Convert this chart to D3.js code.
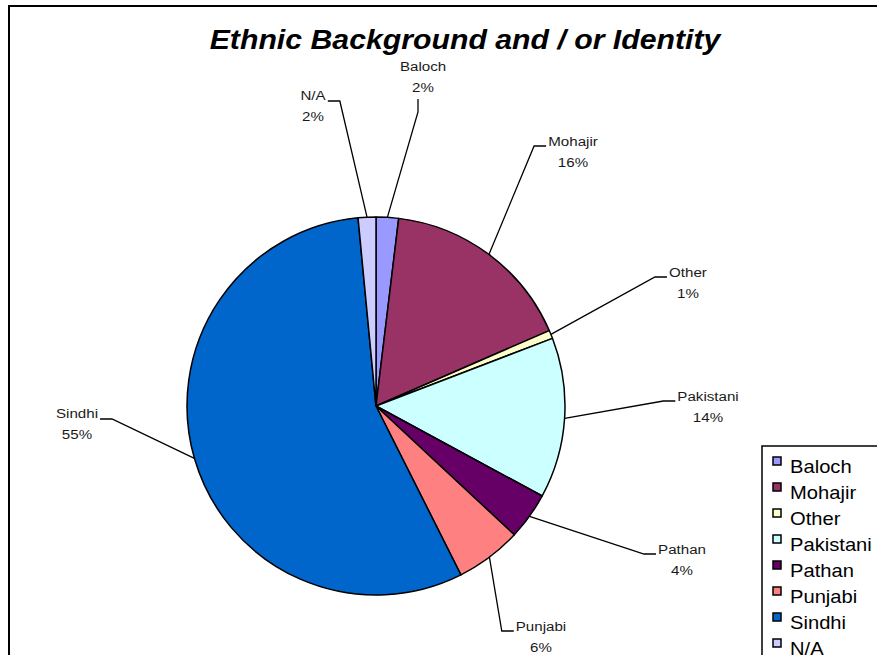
<!DOCTYPE html>
<html>
<head>
<meta charset="utf-8">
<script src="https://cdn.jsdelivr.net/npm/d3@7"></script>
<style>
  body { margin: 0; background: #fff; }
  svg { display: block; font-family: "Liberation Sans", Arial, sans-serif; }
</style>
</head>
<body>
<div id="chart"></div>
<script>
// data (percent of respondents)
const groups = ["Baloch", "Mohajir", "Other", "Pakistani", "Pathan", "Punjabi", "Sindhi", "N/A"];
const shares = [1.9, 16.4, 0.7, 13.6, 4.0, 5.6, 55.4, 1.5];
const colours = ["#9999FF", "#993366", "#FFFFCC", "#CCFFFF", "#660066", "#FF8080", "#0066CC", "#CCCCFF"];

const data = groups.map((g, i) => ({name: g, value: shares[i]}));

// where each data label sits (centre of first line) and which side the leader leaves from
const labelPos = {
  "Baloch":    {x: 423, y: 66,  side: "below"},
  "Mohajir":   {x: 573, y: 141, side: "left"},
  "Other":     {x: 688, y: 272, side: "left"},
  "Pakistani": {x: 708, y: 396, side: "left"},
  "Pathan":    {x: 682, y: 549, side: "left"},
  "Punjabi":   {x: 541, y: 626, side: "left"},
  "Sindhi":    {x: 77,  y: 413, side: "right"},
  "N/A":       {x: 313, y: 95,  side: "right"}
};

const width = 877, height = 655;
const cx = 376, cy = 406, radius = 189;
const stretch = 1.12; // text in the original is a bit wider than Arial

const svg = d3.select("#chart")
  .append("svg")
  .attr("width", width)
  .attr("height", height);

// outer frame
svg.append("rect")
  .attr("x", 9).attr("y", 6)
  .attr("width", 920).attr("height", 700)
  .attr("fill", "#fff")
  .attr("stroke", "#000")
  .attr("stroke-width", 2);

const addText = (parent, str, x, y, size, opts = {}) =>
  parent.append("text")
    .attr("transform", `translate(${x},${y}) scale(${stretch},1)`)
    .attr("text-anchor", opts.anchor || "middle")
    .attr("dominant-baseline", "central")
    .attr("font-size", size)
    .attr("font-weight", opts.weight || "normal")
    .attr("font-style", opts.style || "normal")
    .attr("fill", opts.fill || "#000")
    .text(str);

// title
addText(svg, "Ethnic Background and / or Identity", 465, 40, 27, {weight: "bold", style: "italic"});

// pie
const pie = d3.pie().value(d => d.value).sort(null);
const arcs = pie(data);
const arc = d3.arc().innerRadius(0).outerRadius(radius);

const pieG = svg.append("g").attr("transform", `translate(${cx},${cy})`);

pieG.selectAll("path")
  .data(arcs)
  .join("path")
    .attr("d", arc)
    .attr("fill", (d, i) => colours[i])
    .attr("stroke", "#000")
    .attr("stroke-width", 1.5)
    .attr("stroke-linejoin", "round");

// labels with leader lines
const labelG = svg.append("g");

arcs.forEach(d => {
  const p = labelPos[d.data.name];
  const pct = Math.round(d.data.value) + "%";
  const t1 = addText(labelG, d.data.name, p.x, p.y, 13.5, {fill: "#1a1a1a"});
  addText(labelG, pct, p.x, p.y + 21, 13.5, {fill: "#1a1a1a"});

  const w = t1.node().getBBox().width * stretch;
  const mid = (d.startAngle + d.endAngle) / 2;
  const edge = [cx + radius * Math.sin(mid), cy - radius * Math.cos(mid)];

  let p1, p2;
  if (p.side === "left") {
    p1 = [p.x - w / 2 - 2, p.y + 5];
    p2 = [p1[0] - 12, p1[1]];
  } else if (p.side === "right") {
    p1 = [p.x + w / 2 + 2, p.y + 6];
    p2 = [p1[0] + 12, p1[1]];
  } else {
    p1 = [p.x - 5, p.y + 33];
    p2 = [p1[0], p1[1] + 13];
  }

  labelG.append("path")
    .attr("d", d3.line()([p1, p2, edge]))
    .attr("fill", "none")
    .attr("stroke", "#000")
    .attr("stroke-width", 1.3);
});

// legend (runs off the right and bottom edges, as in the original)
const legend = svg.append("g");
legend.append("rect")
  .attr("x", 762).attr("y", 446)
  .attr("width", 200).attr("height", 300)
  .attr("fill", "#fff")
  .attr("stroke", "#000")
  .attr("stroke-width", 1.5);

const legendY = d3.scalePoint()
  .domain(groups)
  .range([467, 467 + 26 * (groups.length - 1)]);

legend.selectAll("rect.key")
  .data(groups)
  .join("rect")
    .attr("class", "key")
    .attr("x", 773)
    .attr("y", d => legendY(d) - 10)
    .attr("width", 8)
    .attr("height", 8)
    .attr("fill", (d, i) => colours[i])
    .attr("stroke", "#000")
    .attr("stroke-width", 1.5);

groups.forEach(g => addText(legend, g, 790, legendY(g), 18, {anchor: "start"}));
</script>
</body>
</html>
